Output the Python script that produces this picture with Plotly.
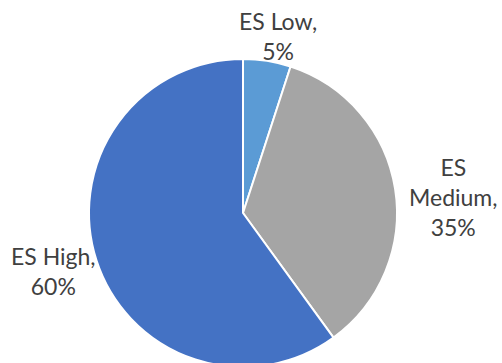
import plotly.graph_objects as go

labels = ["ES Low", "ES Medium", "ES High"]
values = [5, 35, 60]
colors = ["#5B9BD5", "#A5A5A5", "#4472C4"]
# label block centres (pixels from top-left) and line breaks
label_text = ["ES Low,<br>5%", "ES<br>Medium,<br>35%", "ES High,<br>60%"]
label_px = [(278, 36), (453, 197), (53, 271)]

W, H = 502, 380
cx, cy, r = 243, 213, 154

fig = go.Figure(go.Pie(
    labels=labels,
    values=values,
    marker=dict(colors=colors, line=dict(color="white", width=2)),
    sort=False,
    direction="clockwise",
    rotation=0,
    textinfo="none",
    hoverinfo="label+percent",
    showlegend=False,
    domain=dict(x=[(cx - r) / W, (cx + r) / W],
                y=[(H - (cy + r)) / H, (H - (cy - r)) / H]),
))

for t, (px, py) in zip(label_text, label_px):
    fig.add_annotation(
        x=px / W, y=1 - py / H, xref="paper", yref="paper",
        text=t, showarrow=False, xanchor="center", yanchor="middle",
        align="center",
        font=dict(family="Lato", size=23, color="#404040"),
    )

fig.update_layout(
    width=W, height=H,
    margin=dict(l=0, r=0, t=0, b=0),
    paper_bgcolor="white",
    plot_bgcolor="white",
)

fig.write_html(
    "out.html",
    post_script="document.documentElement.style.overflow='hidden';"
                "document.body.style.overflow='hidden';"
                "document.body.style.margin='0';",
)
